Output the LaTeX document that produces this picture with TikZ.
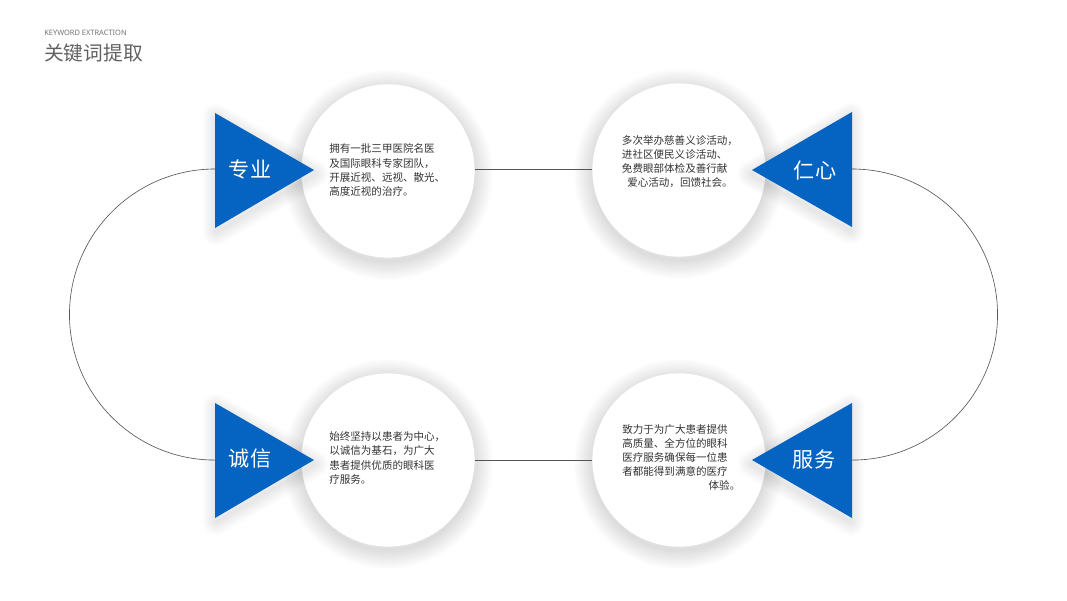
\documentclass[tikz,border=0pt]{standalone}
\usepackage{fontspec}
\setmainfont{Noto Sans}
\newfontfamily\cjk{Noto Sans CJK SC}
\XeTeXlinebreaklocale "zh"
\XeTeXlinebreakskip = 0pt plus 1pt
\definecolor{tblue}{HTML}{0563C1}
\definecolor{ttext}{HTML}{333333}
\definecolor{tline}{HTML}{555555}
\newcommand{\jline}[2]{\makebox[#1][s]{#2}}
\begin{document}
\begin{tikzpicture}[x=0.025cm,y=-0.025cm,
  bubble/.style={circle,fill=white,minimum size=4.33cm,inner sep=0pt},
  softshade/.style={draw=black,line width=#1,opacity=0.0065,line join=round},
  tri/.style={fill=tblue},
  conn/.style={draw=tline,line width=0.45pt},
  trilabel/.style={text=white,font=\cjk\fontsize{15pt}{15pt}\selectfont,inner sep=0pt},
  body/.style={text=ttext,font=\cjk\fontsize{7.5pt}{10pt}\selectfont,inner sep=0pt,align=left}]
\useasboundingbox (0,0) rectangle (1067,600);
\fill[white] (0,0) rectangle (1067,600);
% titles
\node[anchor=west,inner sep=0pt,text=black!55,font=\fontsize{5.3pt}{6pt}\selectfont] (kw) at (44,33) {KEYWORD EXTRACTION};
\node[anchor=west,inner sep=0pt,text=black!62,font=\cjk\fontsize{14pt}{14pt}\selectfont] (title) at (44,53) {关键词提取};
% circle shadows
\foreach \cx/\cy in {388/171,679/170,388/460,679/460}{
  \foreach \w in {1.6,3.2,...,27.2}{
    \draw[softshade=\w pt] (\cx,\cy+4) circle[radius=2.15cm];
  }
}
% circles
\node[bubble] (c1) at (388,171) {};
\node[bubble] (c2) at (679,170) {};
\node[bubble] (c3) at (388,460) {};
\node[bubble] (c4) at (679,460) {};
% connectors
\coordinate (t1w) at (215,169);
\coordinate (t2e) at (852,169);
\coordinate (t3w) at (215,460);
\coordinate (t4e) at (852,460);
\draw[conn] (c1.east |- 0,169) -- (c2.west |- 0,169);
\draw[conn] (c3.east |- 0,460) -- (c4.west |- 0,460);
\draw[conn] (t1w) arc[start angle=90,end angle=270,radius=3.6375cm];
\draw[conn] (t2e) arc[start angle=90,end angle=-90,radius=3.6375cm];
% triangle shadows
\foreach \w in {1.6,3.2,...,19.2}{
  \draw[softshade=\w pt] (216,117) -- (315,174) -- (216,232) -- cycle;
  \draw[softshade=\w pt] (851,116) -- (751,174) -- (851,231) -- cycle;
  \draw[softshade=\w pt] (216,407) -- (315,464) -- (216,522) -- cycle;
  \draw[softshade=\w pt] (851,407) -- (751,464) -- (851,522) -- cycle;
}
% triangles
\fill[tri] (215,113) -- (314,170) -- (215,228) -- cycle;
\fill[tri] (852,112) -- (752,170) -- (852,227) -- cycle;
\fill[tri] (215,403) -- (314,460) -- (215,518) -- cycle;
\fill[tri] (852,403) -- (752,460) -- (852,518) -- cycle;
\node[trilabel] (l1) at (250,169) {专业};
\node[trilabel] (l2) at (815,170) {仁心};
\node[trilabel] (l3) at (250,459) {诚信};
\node[trilabel] (l4) at (814,459) {服务};
% texts
\node[body,anchor=west] (b1) at (329,170) {\jline{2.95cm}{拥有一批三甲医院名医}\\\jline{2.95cm}{及国际眼科专家团队，}\\\jline{2.95cm}{开展近视、远视、散光、}\\高度近视的治疗。};
\node[body] (b2) at (680,162) {\jline{2.9cm}{多次举办慈善义诊活动，}\\\jline{2.9cm}{进社区便民义诊活动、}\\\jline{2.9cm}{免费眼部体检及善行献}\\\makebox[2.9cm][c]{爱心活动，回馈社会。}};
\node[body,anchor=west] (b3) at (329,458) {\jline{3.0cm}{始终坚持以患者为中心，}\\\jline{3.0cm}{以诚信为基石，为广大}\\\jline{3.0cm}{患者提供优质的眼科医}\\疗服务。};
\node[body,anchor=west] (b4) at (622,457.5) {\jline{2.95cm}{致力于为广大患者提供}\\\jline{2.95cm}{高质量、全方位的眼科}\\\jline{2.95cm}{医疗服务确保每一位患}\\\jline{2.95cm}{者都能得到满意的医疗}\\\makebox[2.95cm][r]{体验。}};
\end{tikzpicture}
\end{document}
